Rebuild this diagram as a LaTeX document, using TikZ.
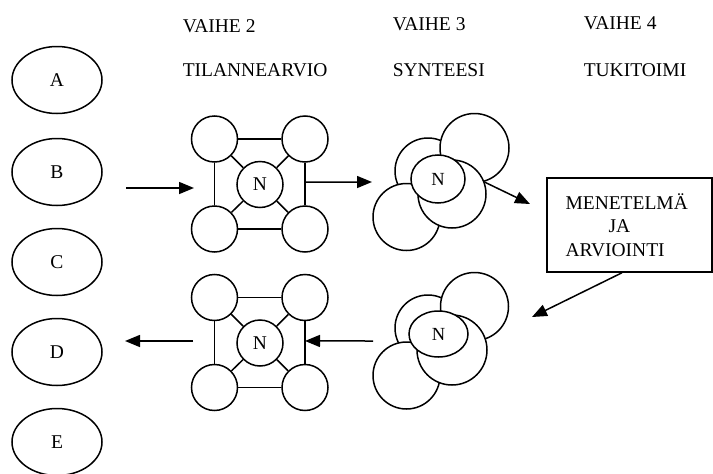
\documentclass[tikz,border=0pt]{standalone}
\usepackage{fontspec}
\setmainfont{Liberation Serif}
\usetikzlibrary{arrows.meta,calc,shapes.geometric}

\begin{document}
\begin{tikzpicture}[x=1pt,y=-1pt,line width=1.5pt,
  txt/.style={font=\fontsize{19.5}{23.5}\selectfont,inner sep=0pt},
  oval/.style={draw,ellipse,minimum width=90pt,minimum height=67pt,inner sep=0pt,
    font=\fontsize{19.5}{23.5}\selectfont},
  ball/.style={draw,circle,fill=white,minimum size=46pt,inner sep=0pt,
    font=\fontsize{19.5}{23.5}\selectfont},
  blob/.style={draw,circle,fill=white,inner sep=0pt,minimum size=#1},
  core/.style={draw,ellipse,fill=white,inner sep=0pt,font=\fontsize{18.5}{22}\selectfont},
  arr/.style={-{Triangle[length=15pt,width=12pt]}},
  box/.style={draw,rectangle,minimum width=165pt,minimum height=94pt,
    text width=128pt,inner xsep=18.5pt,align=left,
    font=\fontsize{19.5}{23.5}\selectfont}]

\useasboundingbox (0,0) rectangle (713,474);

% column headings
\node[txt,anchor=base west] (h2) at (182,32) {VAIHE 2};
\node[txt,anchor=base west] (t2) at (182,76) {TILANNEARVIO};
\node[txt,anchor=base west] (h3) at (392,30) {VAIHE 3};
\node[txt,anchor=base west] (t3) at (392,76) {SYNTEESI};
\node[txt,anchor=base west] (h4) at (583,29) {VAIHE 4};
\node[txt,anchor=base west] (t4) at (583,76) {TUKITOIMI};

% left column of ovals
\node[oval] (A) at (57,80) {A};
\node[oval] (B) at (57,172) {B};
\node[oval] (C) at (57,262) {C};
\node[oval] (D) at (57,352) {D};
\node[oval] (E) at (57,442) {E};

% upper situation-assessment square
\node[ball] (TL1) at (214.5,139) {};
\node[ball] (TR1) at (305,139) {};
\node[ball] (BL1) at (214.5,229) {};
\node[ball] (BR1) at (305,229) {};
\node[ball] (N1) at (260,184.5) {N};
\draw (TL1) -- (TR1) (BL1) -- (BR1) (TL1) -- (BL1) (TR1) -- (BR1);
\draw (N1) -- (TL1) (N1) -- (TR1) (N1) -- (BL1) (N1) -- (BR1);

% lower situation-assessment square
\node[ball] (TL2) at (214.5,297.5) {};
\node[ball] (TR2) at (305,297.5) {};
\node[ball] (BL2) at (214.5,387.5) {};
\node[ball] (BR2) at (305,387.5) {};
\node[ball] (N2) at (260,343) {N};
\draw (TL2) -- (TR2) (BL2) -- (BR2) (TL2) -- (BL2) (TR2) -- (BR2);
\draw (N2) -- (TL2) (N2) -- (TR2) (N2) -- (BL2) (N2) -- (BR2);

% upper synthesis cluster (back to front)
\node[blob=66pt] (LM1) at (428,171) {};
\node[blob=69pt] (UR1) at (474.5,148) {};
\node[blob=67pt] (LB1) at (406.5,217) {};
\node[blob=68pt] (LR1) at (452,194) {};
\node[core,minimum width=54pt,minimum height=48pt] (NS1) at (438,179) {N};

% lower synthesis cluster (back to front)
\node[blob=66pt] (LM2) at (428,328) {};
\node[blob=68pt] (UR2) at (474.5,306.5) {};
\node[blob=67pt] (LB2) at (406.5,375.5) {};
\node[blob=70pt] (LR2) at (452,350) {};
\node[core,minimum width=59pt,minimum height=46pt] (NS2) at (438.5,334) {N};

% support-action box
\node[box] (M) at (629.5,225) {MENETELMÄ\\\hspace*{43pt}JA\\ARVIOINTI};

% arrow end points
\coordinate (inT) at (126,188);
\coordinate (inH) at (194,188);
\coordinate (o1) at ($(TR1.center)!0.478!(BR1.center)$);
\coordinate (s1) at (372,182);
\coordinate (q1) at (530,204);
\coordinate (mb) at ([xshift=-7.5pt]M.south);
\coordinate (q2) at (532,317);
\coordinate (s2) at (373,341);
\coordinate (o2) at ($(TR2.center)!0.483!(BR2.center)$);
\coordinate (l2) at (193,341);
\coordinate (outH) at (125,341);

% flow arrows
\draw[arr] (inT) -- (inH);
\draw[arr] (o1) -- (s1);
\draw[arr] (LR1.20) -- (q1);
\draw[arr] (mb) -- (q2);
\draw[arr] (s2) -- (o2);
\draw[arr] (l2) -- (outH);
\end{tikzpicture}
\end{document}
